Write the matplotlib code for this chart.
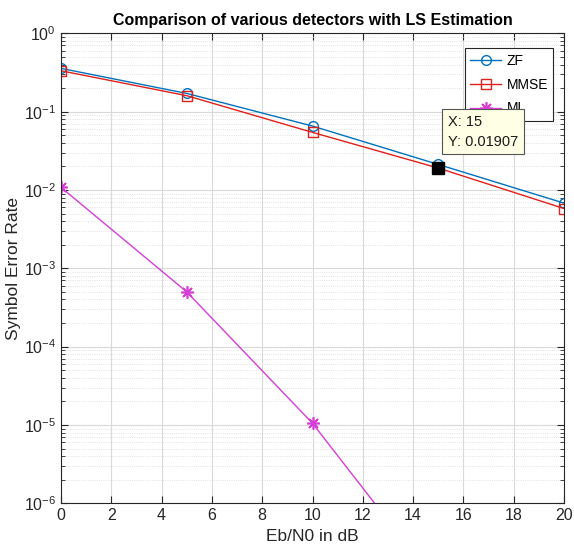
import matplotlib
matplotlib.use("Agg")
import matplotlib.pyplot as plt
import numpy as np

plt.rcParams['font.family'] = ['Liberation Sans', 'DejaVu Sans']

# datos
EbN0 = [0, 5, 10, 15, 20]
ser_zf = [0.357, 0.171, 0.0655, 0.0212, 0.0068]
ser_mmse = [0.333, 0.160, 0.0544, 0.01907, 0.0058]
EbN0_ml = [0, 5, 10, 15]
ser_ml = [0.0108, 5.0e-4, 1.05e-5, 9.0e-8]

tip_x = 15
tip_y = 0.01907

fig = plt.figure(figsize=(5.74, 5.56), dpi=100)
ax = fig.add_axes([0.1063, 0.0948, 0.8763, 0.8452])

ax.semilogy(EbN0, ser_zf, '-o', color='#0072BD', mfc='none', ms=7, lw=1, label='ZF')
ax.semilogy(EbN0, ser_mmse, '-s', color='#E0201B', mfc='none', ms=7, lw=1, label='MMSE')
ax.semilogy(EbN0_ml, ser_ml, '-', marker=(8, 2, 0), color='#D63ED6', ms=9, mew=1.2, lw=1, label='ML')

ax.set_xlim(0, 20)
ax.set_ylim(1e-6, 1)
ax.set_xticks(np.arange(0, 21, 2))
ax.grid(True, which='major', color='#d9d9d9', lw=0.8)
ax.grid(True, which='minor', color='#d9d9d9', lw=0.6, ls=':')
ax.tick_params(which='both', direction='in', top=True, right=True, labelsize=11.5, colors='#262626')
ax.tick_params(which='major', length=5)
ax.tick_params(which='minor', length=3)
for s in ax.spines.values():
    s.set_color('#262626')

ax.set_title('Comparison of various detectors with LS Estimation', fontsize=11.5, fontweight='bold', pad=6)
ax.set_xlabel('Eb/N0 in dB', fontsize=12.5, color='#262626', labelpad=4)
ax.set_ylabel('Symbol Error Rate', fontsize=12.5, color='#262626', labelpad=2)

leg = ax.legend(loc='upper right', bbox_to_anchor=(0.979, 0.968), borderaxespad=0, fontsize=10,
                fancybox=False, edgecolor='#262626', framealpha=1, handlelength=2.2, borderpad=0.4,
                labelspacing=0.7, handletextpad=0.4)
leg.get_frame().set_linewidth(0.8)

# data tip
ax.plot([tip_x], [tip_y], 's', color='black', ms=8, zorder=5)
ax.annotate('X: 15\nY: 0.01907', xy=(tip_x, tip_y), xytext=(7, 14), textcoords='offset points',
            fontsize=10.5, color='#1a1a1a', linespacing=1.5, ha='left', va='bottom',
            bbox=dict(boxstyle='square,pad=0.4', fc='#FFFFE6', ec='#555555', lw=0.8), zorder=6)

plt.savefig('out.png', dpi=100)
